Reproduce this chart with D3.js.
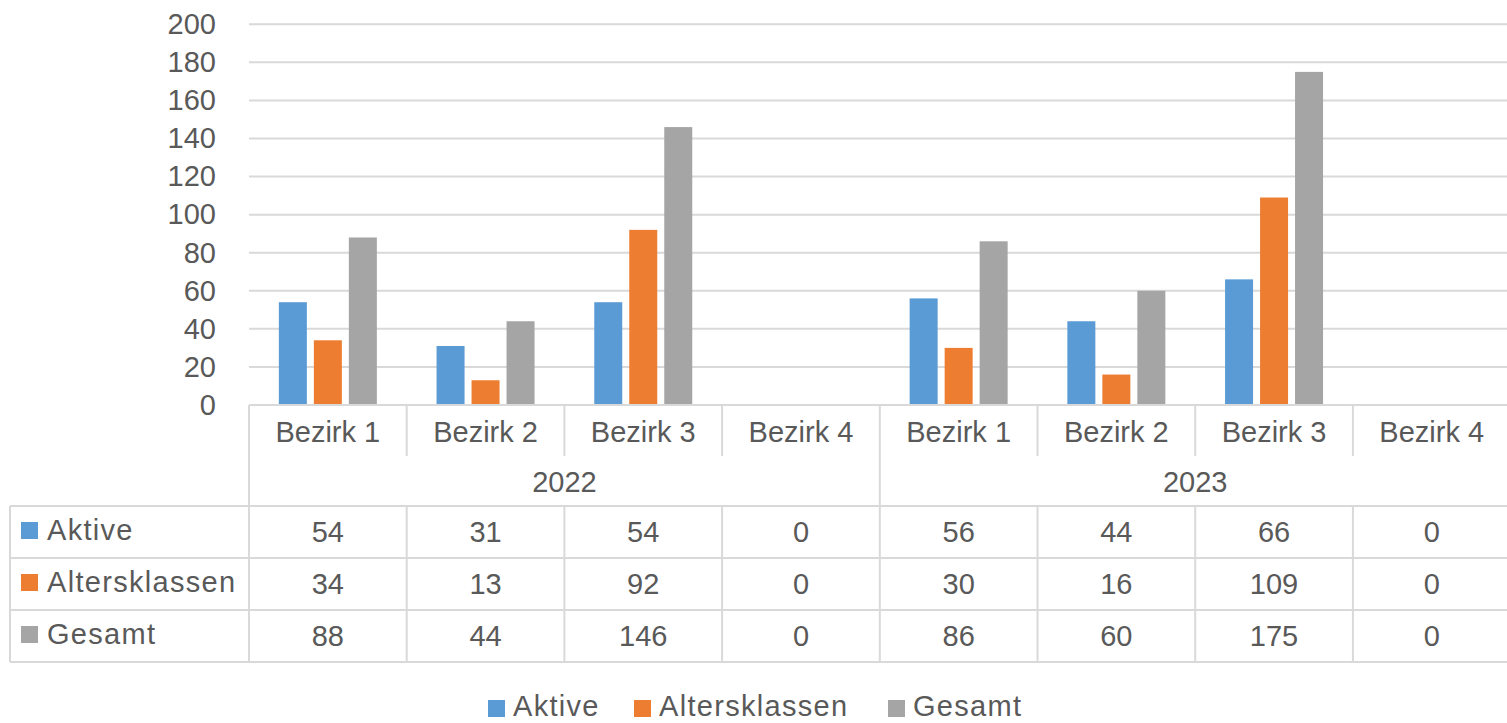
<!DOCTYPE html>
<html>
<head>
<meta charset="utf-8">
<script src="https://cdn.jsdelivr.net/npm/d3@7"></script>
<style>
  body { margin: 0; background: #fff; overflow: hidden; }
  svg text { font-family: "Liberation Sans", Arial, sans-serif; fill: #595959; }
  .sname { letter-spacing: 1.3px; }
</style>
</head>
<body>
<div id="chart"></div>
<script>
const years = ["2022", "2023"];
const districts = ["Bezirk 1", "Bezirk 2", "Bezirk 3", "Bezirk 4"];
const seriesNames = ["Aktive", "Altersklassen", "Gesamt"];
const colors = ["#5B9BD5", "#ED7D31", "#A5A5A5"];
const aktive = [54, 31, 54, 0, 56, 44, 66, 0];
const altersklassen = [34, 13, 92, 0, 30, 16, 109, 0];
const gesamt = [88, 44, 146, 0, 86, 60, 175, 0];
const yTicks = [0, 20, 40, 60, 80, 100, 120, 140, 160, 180, 200];

const seriesValues = [aktive, altersklassen, gesamt];

const w = 1507, h = 723;
const plotLeft = 249, plotRight = 1510.6;
const plotTop = 24.3, plotBottom = 405;
const gridColor = "#d9d9d9";
const fontSize = 29;

// table row edges
const tableTop = 506, rowH = 52;
const tableLeft = 10;

const svg = d3.select("#chart").append("svg")
  .attr("width", w).attr("height", h);

// categories: year + district
const cats = [];
years.forEach(yr => districts.forEach(d => cats.push(yr + "|" + d)));

const x = d3.scaleBand().domain(cats).range([plotLeft, plotRight]);
const catW = x.bandwidth();
const x1 = d3.scaleBand().domain(seriesNames).range([0, catW])
  .paddingInner(0.2).paddingOuter(0.853);
const y = d3.scaleLinear().domain([0, 200]).range([plotBottom, plotTop]);

// gridlines
svg.append("g").selectAll("line").data(yTicks.slice(1)).enter().append("line")
  .attr("x1", plotLeft).attr("x2", w)
  .attr("y1", d => y(d)).attr("y2", d => y(d))
  .attr("stroke", gridColor).attr("stroke-width", 2);

// y axis labels
const yAxis = d3.axisLeft(y).tickValues(yTicks).tickSize(0).tickPadding(0);
const gy = svg.append("g").attr("transform", `translate(216,0)`).call(yAxis);
gy.select(".domain").remove();
gy.selectAll("text").style("font-size", fontSize + "px").attr("fill", "#595959")
  .style("font-family", '"Liberation Sans", Arial, sans-serif');

// bars
seriesNames.forEach((s, si) => {
  svg.append("g").selectAll("rect").data(seriesValues[si]).enter().append("rect")
    .attr("x", (d, i) => x(cats[i]) + x1(s))
    .attr("width", x1.bandwidth())
    .attr("y", d => y(d))
    .attr("height", d => y(0) - y(d))
    .attr("fill", colors[si]);
});

// baseline
svg.append("line").attr("x1", plotLeft).attr("x2", w)
  .attr("y1", y(0)).attr("y2", y(0))
  .attr("stroke", gridColor).attr("stroke-width", 2);

// category dividers
const lines = svg.append("g").attr("stroke", gridColor).attr("stroke-width", 2);
cats.forEach((c, i) => {
  const xx = x(c);
  if (i === 0) {
    lines.append("line").attr("x1", xx).attr("x2", xx).attr("y1", y(0)).attr("y2", tableTop + rowH * 3);
  } else if (i % districts.length === 0) {
    lines.append("line").attr("x1", xx).attr("x2", xx).attr("y1", y(0)).attr("y2", tableTop);
  } else {
    lines.append("line").attr("x1", xx).attr("x2", xx).attr("y1", y(0)).attr("y2", 456);
  }
  if (i > 0) {
    lines.append("line").attr("x1", xx).attr("x2", xx).attr("y1", tableTop).attr("y2", tableTop + rowH * 3);
  }
});
// table horizontal lines and left border
for (let r = 0; r <= 3; r++) {
  lines.append("line").attr("x1", tableLeft).attr("x2", w)
    .attr("y1", tableTop + r * rowH).attr("y2", tableTop + r * rowH);
}
lines.append("line").attr("x1", tableLeft).attr("x2", tableLeft)
  .attr("y1", tableTop).attr("y2", tableTop + rowH * 3);

// category labels
svg.append("g").selectAll("text").data(cats).enter().append("text")
  .attr("x", d => x(d) + catW / 2).attr("y", 442)
  .attr("text-anchor", "middle").style("font-size", fontSize + "px")
  .text(d => d.split("|")[1]);

// year labels
svg.append("g").selectAll("text").data(years).enter().append("text")
  .attr("x", d => x(d + "|" + districts[0]) + catW * districts.length / 2)
  .attr("y", 492)
  .attr("text-anchor", "middle").style("font-size", fontSize + "px")
  .text(d => d);

// table rows
seriesNames.forEach((s, si) => {
  const rowY = tableTop + si * rowH;
  svg.append("rect").attr("x", 21).attr("y", rowY + 16).attr("width", 17).attr("height", 17)
    .attr("fill", colors[si]);
  svg.append("text").attr("class", "sname").attr("x", 47).attr("y", rowY + 34)
    .style("font-size", fontSize + "px").text(s);
  svg.append("g").selectAll("text").data(seriesValues[si]).enter().append("text")
    .attr("x", (d, i) => x(cats[i]) + catW / 2).attr("y", rowY + 36)
    .attr("text-anchor", "middle").style("font-size", fontSize + "px")
    .text(d => d);
});

// legend
const legendX = [488, 634, 888];
const legend = svg.append("g");
seriesNames.forEach((s, si) => {
  legend.append("rect").attr("x", legendX[si]).attr("y", 700).attr("width", 17).attr("height", 17)
    .attr("fill", colors[si]);
  legend.append("text").attr("class", "sname").attr("x", legendX[si] + 25).attr("y", 716)
    .style("font-size", fontSize + "px").text(s);
});
</script>
</body>
</html>
